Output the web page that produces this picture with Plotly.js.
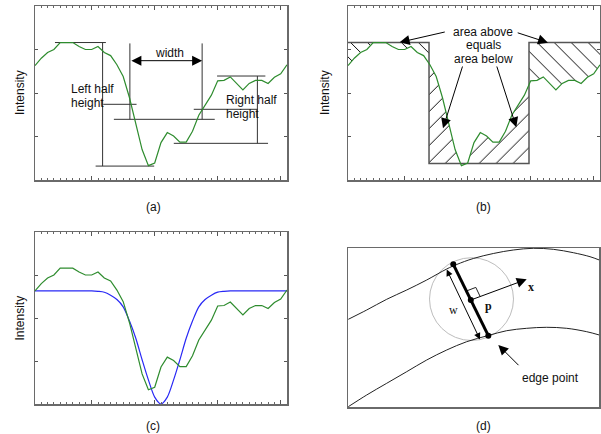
<!DOCTYPE html>
<html><head><meta charset="utf-8">
<script src="https://cdn.plot.ly/plotly-3.0.1.min.js"></script>
<style>html,body{margin:0;padding:0;background:#fff}#chart{width:601px;height:434px}</style>
</head><body><div id="chart"></div>
<script>
// ---------------- data ----------------
const sampleIndex = [1,2,3,4,5,6,7,8,9,10,11,12,13,14,15,16,17,18,19,20,21,22,23,24,25,26,27,28,29,30,31,32,33,34,35,36,37,38,39,40,41];
const intensity = [2.63,2.80,2.93,3.00,3.16,3.16,3.16,3.07,3.00,3.00,3.07,2.93,2.86,2.65,2.38,1.89,1.31,0.70,0.33,0.39,0.86,1.09,1.01,0.87,0.87,1.12,1.49,1.72,1.95,2.28,2.29,2.37,2.21,2.07,2.22,2.29,2.29,2.22,2.36,2.44,2.65];
const fittedModel = [2.63,2.63,2.63,2.63,2.63,2.63,2.63,2.63,2.63,2.63,2.62,2.60,2.53,2.43,2.26,1.93,1.53,1.03,0.56,0.16,0.00,0.16,0.56,1.03,1.53,1.93,2.26,2.43,2.53,2.60,2.62,2.63,2.63,2.63,2.63,2.63,2.63,2.63,2.63,2.63,2.63];

// (a) half-height construction segments [x0,x1] / [y0,y1]
const guideSegX = [[4.17,12.25],[11.73,11.73],[10.62,19.92],[11.83,17.12],[16.06,16.06],[27.53,27.53],[13.52,29.53],[29.9,37.57],[36.3,36.3],[23.03,37.99],[26.2,36.3]];
const guideSegY = [[3.16,3.16],[3.16,0.32],[0.32,0.32],[1.74,1.74],[3.14,1.395],[3.14,1.395],[1.395,1.395],[2.39,2.39],[2.39,0.843],[0.843,0.843],[1.625,1.625]];
const widthArrowX = [16.06, 27.53];
const widthArrowY = 2.743;

// (b) equal-area box model
const boxEdges = [13.86, 29.73];
const boxLevels = [0.38, 3.16]; // bottom, top

// (d) ridge schematic (pixel-like units)
const upperEdgeX = [348.3,366.7,386.7,406.7,426.7,446.7,456.7,473.3,493.3,513.3,533.3,553.3,573.3,590,599.3];
const upperEdgeY = [319.3,310,299.3,290,280,269,264.5,258.5,253.5,250,248.3,249.3,252.7,256.7,260];
const lowerEdgeX = [348.3,366.7,386.7,406.7,426.7,446.7,466.7,488.3,506.7,526.7,546.7,566.7,586.7,599.3];
const lowerEdgeY = [406.7,395,383.3,371.7,360,350,341.7,335.5,330.7,328.3,327.3,328.3,331.7,335];
const crossSectionX = [453.3, 470.8, 488.3];
const crossSectionY = [264.3, 300, 335.7];
const rightAngleX = [466.4, 475.8, 480.1];
const rightAngleY = [291.0, 287.4, 296.4];
const circleBox = [429.5, 257.7, 513.5, 340.5];

// ---------------- helpers ----------------
const W = 601, H = 434;
const px = v => v / W, py = v => 1 - v / H;
function curveAt(xq){
  for (let i=0;i<sampleIndex.length-1;i++){
    const x0=sampleIndex[i], x1=sampleIndex[i+1];
    if (xq>=x0 && xq<=x1){ const t=(xq-x0)/(x1-x0); return intensity[i]+t*(intensity[i+1]-intensity[i]); }
  }
  return intensity[intensity.length-1];
}
const GREEN = 'rgb(46,140,46)', BLUE = 'rgb(40,40,245)', FRAME = '#6a6a6a', INK = '#222';

const traces = [];
// ---- (a) ----
const gx=[], gy=[];
guideSegX.forEach((s,i)=>{ gx.push(s[0],s[1],null); gy.push(guideSegY[i][0],guideSegY[i][1],null); });
traces.push({x:gx,y:gy,xaxis:'x',yaxis:'y',mode:'lines',line:{color:'#333',width:1},hoverinfo:'skip'});
traces.push({x:sampleIndex,y:intensity,xaxis:'x',yaxis:'y',mode:'lines',line:{color:GREEN,width:1.2}});

// ---- (b) ----
const [L,R] = boxEdges, [BOT,TOP] = boxLevels;
function poly(xa, xb, fn){
  const xs=[xa], ys=[fn(curveAt(xa))];
  sampleIndex.forEach(x=>{ if (x>xa && x<xb){ xs.push(x); ys.push(fn(curveAt(x))); } });
  xs.push(xb); ys.push(fn(curveAt(xb)));
  return {xs,ys};
}
const hatch = (shape)=>({shape:shape,size:12,solidity:0.08,fgcolor:'#000',bgcolor:'rgba(0,0,0,0)',fillmode:'replace'});
{
  const p = poly(sampleIndex[0], L, v=>Math.min(v,TOP));
  traces.push({x:p.xs.concat([L,sampleIndex[0]]),y:p.ys.concat([TOP,TOP]),xaxis:'x2',yaxis:'y2',mode:'lines',fill:'toself',fillcolor:'rgba(0,0,0,0)',fillpattern:hatch('\\'),line:{width:0},hoverinfo:'skip'});
  const q = poly(R, sampleIndex[sampleIndex.length-1], v=>Math.min(v,TOP));
  traces.push({x:q.xs.concat([sampleIndex[sampleIndex.length-1],R]),y:q.ys.concat([TOP,TOP]),xaxis:'x2',yaxis:'y2',mode:'lines',fill:'toself',fillcolor:'rgba(0,0,0,0)',fillpattern:hatch('\\'),line:{width:0},hoverinfo:'skip'});
  const m = poly(L, R, v=>Math.max(Math.min(v,TOP),BOT));
  traces.push({x:m.xs.concat([R,L]),y:m.ys.concat([BOT,BOT]),xaxis:'x2',yaxis:'y2',mode:'lines',fill:'toself',fillcolor:'rgba(0,0,0,0)',fillpattern:hatch('/'),line:{width:0},hoverinfo:'skip'});
}
traces.push({x:[sampleIndex[0],L,L,R,R,sampleIndex[sampleIndex.length-1]],y:[TOP,TOP,BOT,BOT,TOP,TOP],xaxis:'x2',yaxis:'y2',mode:'lines',line:{color:'#555',width:1.5},hoverinfo:'skip'});
traces.push({x:sampleIndex,y:intensity,xaxis:'x2',yaxis:'y2',mode:'lines',line:{color:GREEN,width:1.2}});

// ---- (c) ----
traces.push({x:sampleIndex,y:fittedModel,xaxis:'x3',yaxis:'y3',mode:'lines',line:{color:BLUE,width:1.2,shape:'spline',smoothing:0.8}});
traces.push({x:sampleIndex,y:intensity,xaxis:'x3',yaxis:'y3',mode:'lines',line:{color:GREEN,width:1.2}});

// ---- (d) ----
traces.push({x:upperEdgeX,y:upperEdgeY,xaxis:'x4',yaxis:'y4',mode:'lines',line:{color:INK,width:1,shape:'spline'}});
traces.push({x:lowerEdgeX,y:lowerEdgeY,xaxis:'x4',yaxis:'y4',mode:'lines',line:{color:INK,width:1,shape:'spline'}});
traces.push({x:rightAngleX,y:rightAngleY,xaxis:'x4',yaxis:'y4',mode:'lines',line:{color:INK,width:1}});
traces.push({x:[crossSectionX[0],crossSectionX[2]],y:[crossSectionY[0],crossSectionY[2]],xaxis:'x4',yaxis:'y4',mode:'lines',line:{color:'#000',width:3}});
traces.push({x:crossSectionX,y:crossSectionY,xaxis:'x4',yaxis:'y4',mode:'markers',marker:{color:'#000',size:6}});

// ---------------- axes ----------------
const xPlot = (dom, anchor)=>({domain:dom,anchor:anchor,range:[1,41],showline:true,linecolor:FRAME,linewidth:1.5,mirror:'allticks',
  tickmode:'linear',tick0:0,dtick:10,ticks:'inside',ticklen:4,tickwidth:1,tickcolor:'#555',showticklabels:false,showgrid:false,zeroline:false,
  minor:{tick0:0,dtick:1,ticks:'inside',ticklen:2,tickwidth:1,tickcolor:'#666',showgrid:false}});
const yPlot = (dom, anchor)=>({domain:dom,anchor:anchor,range:[0,4],showline:true,linecolor:FRAME,linewidth:1.5,mirror:'allticks',
  tickmode:'array',tickvals:[1,2,3],ticks:'inside',ticklen:3,tickwidth:1,tickcolor:'#555',showticklabels:false,showgrid:false,zeroline:false});

const topDom = [py(180), py(6)];
const annotations = [];
const lbl = (t,x,y,extra)=>annotations.push(Object.assign({text:t,x:px(x),y:py(y),xref:'paper',yref:'paper',showarrow:false,xanchor:'center',yanchor:'middle',font:{size:12,color:'#111'}},extra||{}));
lbl('(a)',153,207); lbl('(b)',484,207); lbl('(c)',153,426); lbl('(d)',484,426);
lbl('Intensity',20,93,{textangle:-90}); lbl('Intensity',325,93,{textangle:-90}); lbl('Intensity',19.5,318,{textangle:-90});

const txt = (t,x,y,xr,yr,extra)=>annotations.push(Object.assign({text:t,x:x,y:y,xref:xr,yref:yr,showarrow:false,xanchor:'center',yanchor:'middle',font:{size:12,color:'#111'}},extra||{}));
// (a)
txt('width',22.27,2.91,'x','y');
txt('Left half',6.45,2.084,'x','y',{xanchor:'left'});
txt('height',6.45,1.778,'x','y',{xanchor:'left'});
txt('Right half',31,1.839,'x','y',{xanchor:'left'});
txt('height',31,1.51,'x','y',{xanchor:'left'});
annotations.push({x:widthArrowX[1],y:widthArrowY,ax:widthArrowX[0],ay:widthArrowY,xref:'x',yref:'y',axref:'x',ayref:'y',text:'',showarrow:true,
  arrowhead:2,startarrowhead:2,arrowside:'end+start',arrowsize:2,startarrowsize:2,arrowwidth:1,arrowcolor:'#000'});
// (b)
txt('area above',22.5,3.41,'x2','y2');
txt('equals',22.5,3.10,'x2','y2');
txt('area below',22.5,2.78,'x2','y2');
const arr = (x,y,ax,ay,xr,yr,extra)=>annotations.push(Object.assign({x:x,y:y,ax:ax,ay:ay,xref:xr,yref:yr,axref:xr,ayref:yr,text:'',showarrow:true,arrowhead:2,arrowsize:2,arrowwidth:1,arrowcolor:'#000'},extra||{}));
arr(9.2,3.165,16.6,3.41,'x2','y2');
arr(32.75,3.157,27.7,3.395,'x2','y2');
arr(16.08,1.188,19.25,2.644,'x2','y2');
arr(27.72,1.211,24.55,2.644,'x2','y2');
// (d)
arr(526.7,279.3,crossSectionX[1],crossSectionY[1],'x4','y4');
arr(480,339.5,446,268,'x4','y4',{arrowside:'end+start',startarrowhead:2,arrowsize:1.3,startarrowsize:1.3});
arr(498.3,345,520,366.7,'x4','y4');
txt('w',453.3,310,'x4','y4',{font:{family:'Liberation Serif, serif',size:12,color:'#111'}});
txt('p',488,305.5,'x4','y4',{font:{family:'Liberation Serif, serif',size:12,color:'#111',weight:'bold'}});
txt('x',531,287.3,'x4','y4',{font:{family:'Liberation Serif, serif',size:12,color:'#111',weight:'bold'}});
txt('edge point',550,378.3,'x4','y4');

const layout = {
  width:W,height:H,margin:{l:0,r:0,t:0,b:0},paper_bgcolor:'#fff',plot_bgcolor:'#fff',showlegend:false,
  font:{family:'Liberation Sans, Arial, sans-serif',size:12,color:'#111'},
  xaxis:xPlot([px(35),px(287)],'y'), yaxis:yPlot(topDom,'x'),
  xaxis2:xPlot([px(348),px(600)],'y2'), yaxis2:yPlot(topDom,'x2'),
  xaxis3:xPlot([px(35),px(287)],'y3'), yaxis3:yPlot([py(404),py(232)],'x3'),
  xaxis4:{domain:[px(348),px(599)],anchor:'y4',range:[348,599],showline:true,linecolor:FRAME,linewidth:1.5,mirror:true,ticks:'',showticklabels:false,showgrid:false,zeroline:false},
  yaxis4:{domain:[py(407),py(248)],anchor:'x4',range:[407,248],showline:true,linecolor:FRAME,linewidth:1.5,mirror:true,ticks:'',showticklabels:false,showgrid:false,zeroline:false},
  shapes:[{type:'circle',xref:'x4',yref:'y4',x0:circleBox[0],y0:circleBox[1],x1:circleBox[2],y1:circleBox[3],line:{color:'#bdbdbd',width:1},layer:'below'}],
  annotations:annotations
};
Plotly.newPlot('chart',traces,layout,{staticPlot:true,displayModeBar:false});
</script></body></html>
